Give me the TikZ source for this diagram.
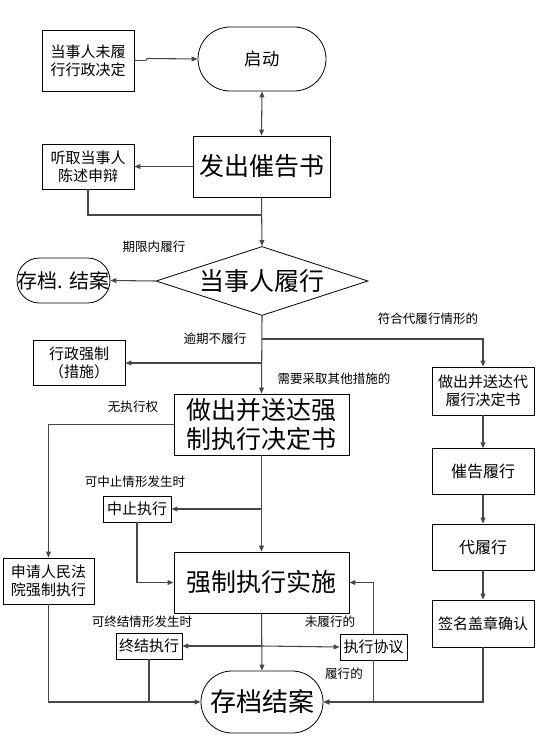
\documentclass[tikz,border=0pt]{standalone}
\usepackage{fontspec}
\setmainfont{Noto Sans CJK SC}
\usetikzlibrary{shapes.geometric,arrows.meta,calc}
\begin{document}
\begin{tikzpicture}[x=0.75pt,y=-0.75pt,
  box/.style={draw=black, line width=0.6pt, inner sep=0pt, align=center,
    font=\fontsize{11.25pt}{13.5pt}\selectfont},
  bigbox/.style={box, font=\fontsize{18.75pt}{21.75pt}\selectfont},
  lbl/.style={inner sep=0pt, font=\fontsize{9.4pt}{11pt}\selectfont},
  conn/.style={draw=black!72, line width=0.8pt},
  arr/.style={conn, -{Triangle[length=4.5pt,width=3.6pt]}},
  darr/.style={conn, {Triangle[length=4.5pt,width=3.6pt]}-{Triangle[length=4.5pt,width=3.6pt]}}
]
\useasboundingbox (0,0) rectangle (545,738);

% nodes
\node[box, minimum width=69pt, minimum height=45.75pt] (wei) at (88,60.5) {当事人未履\\行行政决定};
\node[box, minimum width=96pt, minimum height=48pt, rounded corners=24pt,
  font=\fontsize{13pt}{15pt}\selectfont] (qd) at (262,59) {启动};
\node[bigbox, minimum width=102.75pt, minimum height=45.75pt] (cg) at (261.5,166.5) {发出催告书};
\node[box, minimum width=69pt, minimum height=33.75pt] (tq) at (88,166.5) {听取当事人\\陈述申辩};
\node[draw=black, line width=0.6pt, diamond, aspect=3.07, minimum width=159pt, minimum height=51.75pt, inner sep=0pt,
  font=\fontsize{18.75pt}{21.75pt}\selectfont] (lx) at (262,281) {当事人履行};
\node[box, minimum width=69.75pt, minimum height=33.75pt, rounded corners=16.8pt,
  font=\fontsize{15pt}{18pt}\selectfont] (cd1) at (63.5,280.5) {存档. 结案};
\node[box, minimum width=69pt, minimum height=33.75pt] (xz) at (79,362.5) {行政强制\\（措施）};
\node[bigbox, minimum width=131.25pt, minimum height=45.75pt] (jd) at (261.5,424.5) {做出并送达强\\制执行决定书};
\node[box, minimum width=76.5pt, minimum height=36pt] (dj) at (483,391) {做出并送达代\\履行决定书};
\node[box, minimum width=76.5pt, minimum height=34pt, font=\fontsize{12pt}{14pt}\selectfont] (cl) at (483,471.5) {催告履行};
\node[box, minimum width=76.5pt, minimum height=34.5pt, font=\fontsize{12pt}{14pt}\selectfont] (dl) at (483,547) {代履行};
\node[box, minimum width=76.5pt, minimum height=35.25pt] (qm) at (483,623.5) {签名盖章确认};
\node[box, minimum width=51pt, minimum height=19.5pt] (zz) at (137,509) {中止执行};
\node[box, minimum width=68.25pt, minimum height=34.5pt] (sq) at (48.5,581) {申请人民法\\院强制执行};
\node[bigbox, minimum width=131.25pt, minimum height=45.75pt] (ss) at (261.5,582.5) {强制执行实施};
\node[box, minimum width=49.5pt, minimum height=19.5pt] (zj) at (149,646) {终结执行};
\node[box, minimum width=50.25pt, minimum height=19.5pt] (xy) at (373.5,647) {执行协议};
\node[box, minimum width=91.5pt, minimum height=46.5pt, rounded corners=23.2pt,
  font=\fontsize{19.5pt}{22pt}\selectfont] (cd2) at (262,702) {存档结案};

% labels
\node[lbl] (l1) at (154,247) {期限内履行};
\node[lbl] (l2) at (215,339) {逾期不履行};
\node[lbl] (l3) at (428,319) {符合代履行情形的};
\node[lbl] (l4) at (334,379) {需要采取其他措施的};
\node[lbl] (l5) at (133,407) {无执行权};
\node[lbl] (l6) at (135,482) {可中止情形发生时};
\node[lbl] (l7) at (142,622) {可终结情形发生时};
\node[lbl] (l8) at (330,622) {未履行的};
\node[lbl] (l9) at (344,674) {履行的};

% junction coordinates
\coordinate (j1) at (262,215);
\coordinate (j2) at (262,339);
\coordinate (j3) at (262,363);
\coordinate (j4) at (262,509);
\coordinate (j5) at (262,646);
\coordinate (jw) at (146,60.5);

% connectors
\draw[conn] (wei.east) -- (jw);
\draw[arr] (jw) -- ++(1,-2) -- (qd.west);
\draw[darr] (qd.south) -- (cg.north);
\draw[arr] (cg.west) -- (tq.east);
\draw[conn] (tq.south) |- (j1);
\draw[arr] (cg.south) -- (lx.north);
\draw[arr] (lx.west) -- (cd1.east);
\draw[arr] (lx.south) -- (jd.north);
\draw[arr] (j2) -| (dj.north);
\draw[arr] (j3) -- (j3 -| xz.east);
\draw[arr] (jd.west) -| (sq.north);
\draw[arr] (j4) -- (zz.east);
\draw[arr] (jd.south) -- (ss.north);
\draw[arr] (zz.south) |- (ss.west);
\draw[arr] (dj.south) -- (cl.north);
\draw[arr] (cl.south) -- (dl.north);
\draw[arr] (dl.south) -- (qm.north);
\draw[arr] (ss.south) -- (cd2.north);
\draw[arr] (j5) -- (zj.east);
\draw[arr] (j5) -- (xy.west);
\draw[arr] (xy.north) |- (ss.east);
\draw[arr] (xy.south) |- (cd2.east);
\draw[arr] (qm.south) |- (cd2.east);
\draw[arr] (sq.south) |- (cd2.west);
\draw[conn] (zj.south) -- (zj.south |- cd2.west);
\end{tikzpicture}
\end{document}
